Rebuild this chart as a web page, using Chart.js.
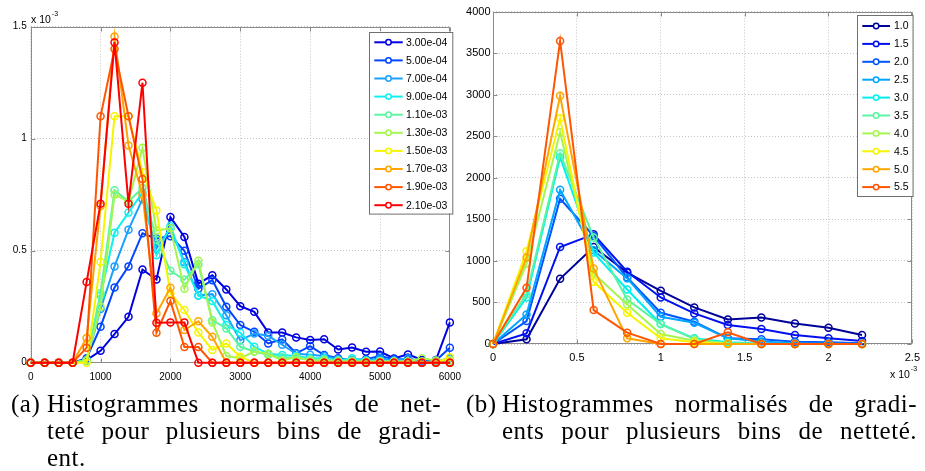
<!DOCTYPE html>
<html>
<head>
<meta charset="utf-8">
<script src="https://cdn.jsdelivr.net/npm/chart.js@4"></script>
<style>
  html, body { margin: 0; padding: 0; background: #fff; width: 925px; height: 471px; overflow: hidden; }
  .pane { position: absolute; top: 0; }
  #left-pane { left: 0; width: 470px; height: 392px; }
  #right-pane { left: 465px; width: 462px; height: 392px; }
  .cap { position: absolute; font-family: "Liberation Serif", serif; font-size: 25px; letter-spacing: 0.5px; line-height: 27px; color: #000; white-space: nowrap; }
  .just { text-align: justify; text-align-last: justify; white-space: normal; }
</style>
</head>
<body>
<div class="pane" id="left-pane"><canvas id="left-canvas"></canvas></div>
<div class="pane" id="right-pane"><canvas id="right-canvas"></canvas></div>

<div class="cap" style="left:11px; top:390px;">(a)</div>
<div class="cap just" style="left:47px; top:390px; width:394px;">Histogrammes normalisés de net-</div>
<div class="cap just" style="left:47px; top:417px; width:394px;">teté pour plusieurs bins de gradi-</div>
<div class="cap" style="left:47px; top:444px;">ent.</div>

<div class="cap" style="left:466px; top:390px;">(b)</div>
<div class="cap just" style="left:502px; top:390px; width:415px;">Histogrammes normalisés de gradi-</div>
<div class="cap just" style="left:502px; top:417px; width:415px;">ents pour plusieurs bins de netteté.</div>

<script>
// --- Left plot: sharpness histograms, one curve per gradient bin (y in units of 1e-3) ---
const sharpX = [0, 200, 400, 600, 800, 1000, 1200, 1400, 1600, 1800, 2000, 2200, 2400, 2600, 2800,
  3000, 3200, 3400, 3600, 3800, 4000, 4200, 4400, 4600, 4800, 5000, 5200, 5400, 5600, 5800, 6000];
const gradBinLabels = ["3.00e-04", "5.00e-04", "7.00e-04", "9.00e-04", "1.10e-03",
  "1.30e-03", "1.50e-03", "1.70e-03", "1.90e-03", "2.10e-03"];

const g300 = [0, 0, 0, 0, 0.012, 0.053, 0.128, 0.205, 0.416, 0.371, 0.65, 0.561, 0.353, 0.39, 0.327,
  0.252, 0.227, 0.135, 0.135, 0.113, 0.101, 0.105, 0.059, 0.068, 0.049, 0.05, 0.019, 0.037, 0.012, 0.012, 0.18];
const g500 = [0, 0, 0, 0, 0.02, 0.16, 0.336, 0.43, 0.578, 0.554, 0.565, 0.5, 0.33, 0.368, 0.25,
  0.168, 0.138, 0.086, 0.104, 0.042, 0.074, 0.034, 0.02, 0.012, 0.015, 0.03, 0.015, 0.015, 0.005, 0.01, 0.067];
const g700 = [0, 0, 0, 0, 0.01, 0.24, 0.43, 0.594, 0.73, 0.51, 0.6, 0.45, 0.3, 0.306, 0.212,
  0.1, 0.13, 0.12, 0.08, 0.04, 0.035, 0.03, 0.015, 0.01, 0.01, 0.02, 0.01, 0.02, 0.005, 0.005, 0.02];
const g900 = [0, 0, 0, 0, 0.01, 0.3, 0.58, 0.67, 0.76, 0.48, 0.61, 0.44, 0.3, 0.276, 0.168,
  0.134, 0.071, 0.04, 0.034, 0.03, 0.02, 0.02, 0.01, 0.02, 0.01, 0.01, 0.005, 0.005, 0, 0, 0.01];
const g1100 = [0, 0, 0, 0, 0.01, 0.31, 0.77, 0.72, 0.78, 0.55, 0.41, 0.37, 0.44, 0.19, 0.153,
  0.071, 0.05, 0.034, 0.024, 0.02, 0.015, 0.015, 0.01, 0.01, 0.005, 0.005, 0.005, 0, 0, 0, 0];
const g1300 = [0, 0, 0, 0, 0.01, 0.25, 0.75, 0.72, 0.96, 0.59, 0.6, 0.33, 0.455, 0.18, 0.03,
  0.02, 0.05, 0.04, 0.01, 0.025, 0.01, 0.01, 0.005, 0.005, 0.005, 0.005, 0.005, 0.005, 0.02, 0.01, 0.01];
const g1500 = [0, 0, 0, 0, 0, 0.45, 1.1, 1.1, 0.85, 0.68, 0.31, 0.235, 0.135, 0.057, 0.086,
  0.027, 0, 0, 0, 0, 0, 0, 0, 0, 0, 0, 0, 0, 0, 0, 0.024];
const g1700 = [0, 0, 0, 0, 0.11, 0.7, 1.456, 0.97, 0.75, 0.22, 0.335, 0.146, 0.185, 0.116, 0,
  0, 0, 0, 0, 0, 0, 0, 0, 0, 0, 0, 0, 0, 0, 0, 0];
const g1900 = [0, 0, 0, 0, 0.067, 1.1, 1.4, 1.1, 0.82, 0.134, 0.276, 0.07, 0.07, 0, 0,
  0, 0, 0, 0, 0, 0, 0, 0, 0, 0, 0, 0, 0, 0, 0, 0];
const g2100 = [0, 0, 0, 0, 0.36, 0.71, 1.43, 0.71, 1.25, 0.178, 0.18, 0.18, 0, 0, 0,
  0, 0, 0, 0, 0, 0, 0, 0, 0, 0, 0, 0, 0, 0, 0, 0];
const leftSeries = [g300, g500, g700, g900, g1100, g1300, g1500, g1700, g1900, g2100];
const leftColors = ["#0000E0", "#0044FF", "#1AA0FF", "#10F0F0", "#5AF5A0",
  "#A5F550", "#F5F500", "#FFA500", "#FF5500", "#FF0000"];
const leftXTicks = [0, 1000, 2000, 3000, 4000, 5000, 6000];
const leftYTicks = [0, 0.5, 1, 1.5];

// --- Right plot: gradient histograms, one curve per sharpness bin (x in units of 1e-3) ---
const gradX = [0, 0.2, 0.4, 0.6, 0.8, 1.0, 1.2, 1.4, 1.6, 1.8, 2.0, 2.2];
const sharpBinLabels = ["1.0", "1.5", "2.0", "2.5", "3.0", "3.5", "4.0", "4.5", "5.0", "5.5"];

const n10 = [0, 56, 784, 1168, 860, 640, 440, 296, 320, 248, 196, 108];
const n15 = [0, 128, 1168, 1320, 870, 560, 368, 228, 180, 108, 68, 36];
const n20 = [0, 276, 1748, 1300, 800, 376, 268, 68, 56, 28, 20, 10];
const n25 = [0, 356, 1856, 1128, 790, 328, 256, 68, 30, 10, 5, 0];
const n30 = [0, 560, 2248, 1100, 656, 240, 68, 20, 5, 0, 0, 0];
const n35 = [0, 600, 2296, 1280, 536, 240, 60, 10, 0, 0, 0, 0];
const n40 = [0, 968, 2548, 850, 476, 120, 40, 5, 0, 0, 0, 0];
const n45 = [0, 1116, 2716, 748, 376, 68, 20, 0, 0, 0, 0, 0];
const n50 = [0, 1040, 2988, 908, 68, 0, 0, 0, 0, 0, 0, 0];
const n55 = [0, 676, 3648, 408, 136, 0, 0, 140, 0, 0, 0, 0];
const rightSeries = [n10, n15, n20, n25, n30, n35, n40, n45, n50, n55];
const rightColors = ["#00009A", "#0010F0", "#0055FF", "#00A5FF", "#00F0F0",
  "#5AF5A0", "#A5F550", "#F5F500", "#FFA500", "#FF5500"];
const rightXTicks = [0, 0.5, 1, 1.5, 2, 2.5];
const rightYTicks = [0, 500, 1000, 1500, 2000, 2500, 3000, 3500, 4000];

const AXIS_GRAY = "#8a8a8a";

// Axis box with inward ticks, MATLAB style
const framePlugin = {
  id: "frame",
  beforeDatasetsDraw(chart) {
    const { ctx, chartArea: a } = chart;
    const L = Math.round(a.left) + 0.5, R = Math.round(a.right) - 0.5;
    const T = Math.round(a.top) + 0.5, B = Math.round(a.bottom) - 0.5;
    ctx.save();
    ctx.strokeStyle = AXIS_GRAY;
    ctx.lineWidth = 1;
    ctx.strokeRect(L, T, R - L, B - T);
    ctx.beginPath();
    chart.scales.x.ticks.forEach((t) => {
      const px = Math.round(chart.scales.x.getPixelForValue(t.value)) + 0.5;
      ctx.moveTo(px, B); ctx.lineTo(px, B - 4);
      ctx.moveTo(px, T); ctx.lineTo(px, T + 4);
    });
    chart.scales.y.ticks.forEach((t) => {
      const py = Math.round(chart.scales.y.getPixelForValue(t.value)) + 0.5;
      ctx.moveTo(L, py); ctx.lineTo(L + 4, py);
      ctx.moveTo(R, py); ctx.lineTo(R - 4, py);
    });
    ctx.stroke();
    ctx.restore();
  },
};

// Boxed legend inside the axes + "x 10^-3" exponent label
const boxLegendPlugin = {
  id: "boxLegend",
  afterDraw(chart, args, o) {
    const { ctx } = chart;
    ctx.save();
    ctx.fillStyle = "#fff";
    ctx.fillRect(o.left, o.top, o.width, o.height);
    ctx.strokeStyle = "#707070";
    ctx.lineWidth = 1;
    ctx.strokeRect(Math.round(o.left) + 0.5, Math.round(o.top) + 0.5, o.width, o.height);
    ctx.font = o.fontSize + "px 'Liberation Sans'";
    ctx.textBaseline = "middle";
    o.labels.forEach((lab, i) => {
      const y = o.top + o.first + i * o.step;
      ctx.strokeStyle = o.colors[i];
      ctx.lineWidth = 2;
      ctx.beginPath();
      ctx.moveTo(o.left + o.lineX1, y);
      ctx.lineTo(o.left + o.lineX2, y);
      ctx.stroke();
      ctx.lineWidth = 1.5;
      ctx.fillStyle = "#fff";
      ctx.beginPath();
      ctx.arc(o.left + (o.lineX1 + o.lineX2) / 2, y, 2.7, 0, Math.PI * 2);
      ctx.fill();
      ctx.stroke();
      ctx.fillStyle = "#000";
      ctx.fillText(lab, o.left + o.textX, y + 0.5);
    });
    // exponent label
    ctx.fillStyle = "#000";
    ctx.textBaseline = "alphabetic";
    ctx.font = o.expSize + "px 'Liberation Sans'";
    ctx.fillText("x 10", o.expX, o.expY);
    const w = ctx.measureText("x 10").width;
    ctx.font = "7px 'Liberation Sans'";
    ctx.fillText("-3", o.expX + w + 1, o.expY - 7);
    ctx.restore();
  },
};

function buildDatasets(xs, series, labels, colors) {
  return series.map((vals, i) => ({
    label: labels[i],
    data: xs.map((x, k) => ({ x: x, y: vals[k] })),
    borderColor: colors[i],
    backgroundColor: colors[i],
    borderWidth: 2,
    pointRadius: 3.5,
    pointHoverRadius: 3.5,
    pointBorderWidth: 1.5,
    pointBorderColor: colors[i],
    pointBackgroundColor: "rgba(0,0,0,0)",
    tension: 0,
    clip: false,
    order: series.length - i, // later series drawn on top
  }));
}

function axis(min, max, tickValues, fontSize, pad, fitFn) {
  return {
    type: "linear",
    min: min,
    max: max,
    afterBuildTicks: (s) => { s.ticks = tickValues.map((v) => ({ value: v })); },
    afterFit: fitFn,
    ticks: {
      callback: (v) => String(v),
      maxRotation: 0,
      autoSkip: false,
      padding: pad,
      color: "#000",
      font: { family: "Liberation Sans", size: fontSize },
    },
    grid: { color: "#c4c4c4", lineWidth: 1, drawTicks: false },
    border: { display: false, dash: [1, 2] },
  };
}

function makeChart(id, xs, series, labels, colors, sc, pad, legend) {
  const ctx = document.getElementById(id).getContext("2d");
  return new Chart(ctx, {
    type: "line",
    data: { datasets: buildDatasets(xs, series, labels, colors) },
    options: {
      responsive: true,
      maintainAspectRatio: false,
      animation: false,
      events: [],
      layout: { padding: pad },
      scales: { x: sc.x, y: sc.y },
      plugins: {
        legend: { display: false },
        tooltip: { enabled: false },
        boxLegend: legend,
      },
    },
    plugins: [framePlugin, boxLegendPlugin],
  });
}

Chart.defaults.font.family = "Liberation Sans";

makeChart("left-canvas", sharpX, leftSeries, gradBinLabels, leftColors,
  {
    x: axis(0, 6000, leftXTicks, 10, 9, (s) => { s.height = 29.3; }),
    y: axis(0, 1.5, leftYTicks, 10, 4, (s) => { s.width = 30.7; }),
  },
  { left: 0, top: 26.7, right: 13.3, bottom: 0 },
  {
    labels: gradBinLabels, colors: leftColors,
    left: 369, top: 31.7, width: 83.3, height: 181.6,
    first: 10.6, step: 18.1, lineX1: 5.3, lineX2: 33.7, textX: 37, fontSize: 10.5,
    expX: 31, expY: 22.7, expSize: 10.5,
  });

makeChart("right-canvas", gradX, rightSeries, sharpBinLabels, rightColors,
  {
    x: axis(0, 2.5, rightXTicks, 11, 7, (s) => { s.height = 48; }),
    y: axis(0, 4000, rightYTicks, 11, 2.5, (s) => { s.width = 28; }),
  },
  { left: 0, top: 11.7, right: 10.3, bottom: 0 },
  {
    labels: sharpBinLabels, colors: rightColors,
    left: 391.7, top: 15, width: 55.6, height: 181,
    first: 11, step: 17.9, lineX1: 5.6, lineX2: 33.3, textX: 37.3, fontSize: 10.5,
    expX: 425, expY: 378, expSize: 10.5,
  });
</script>
</body>
</html>
